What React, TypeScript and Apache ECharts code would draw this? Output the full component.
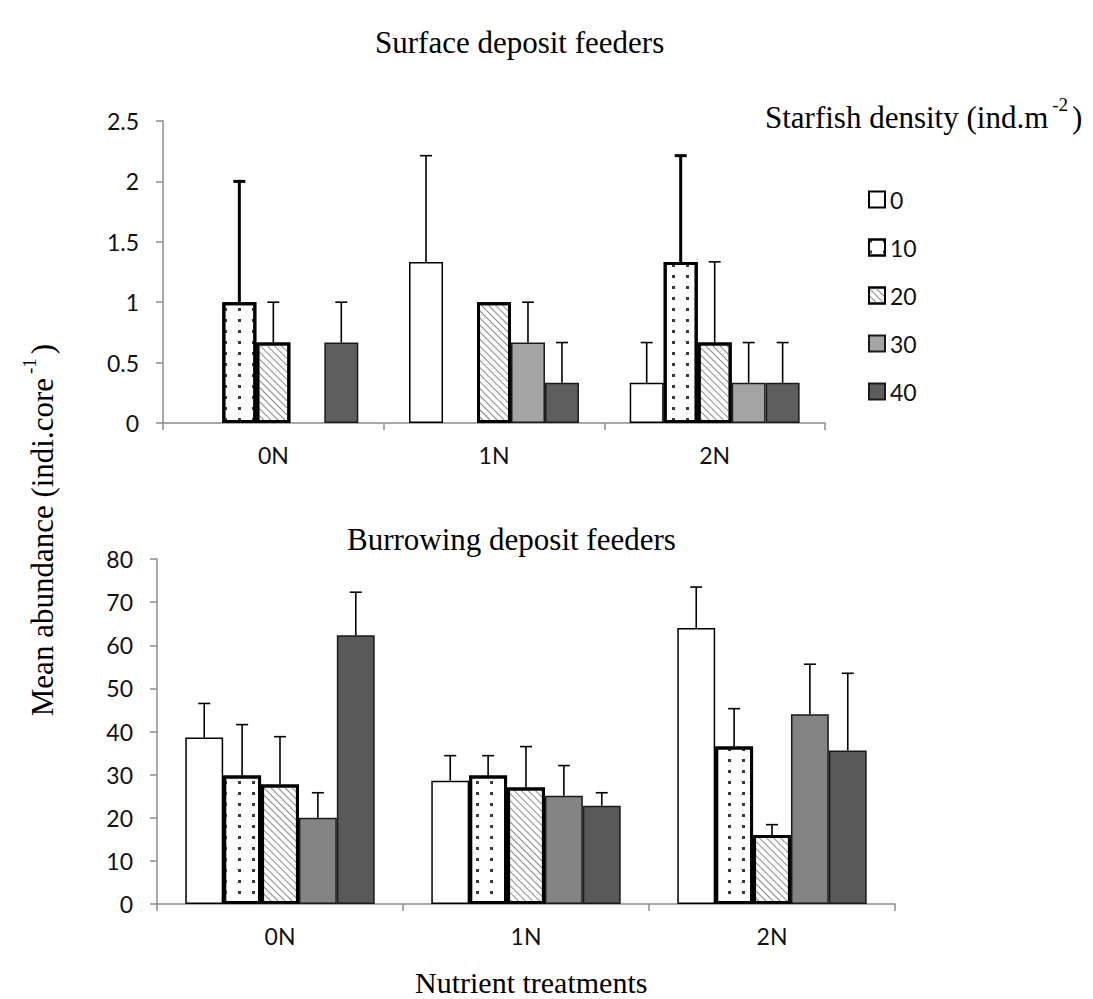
import React, { useEffect, useRef } from "react";
import * as echarts from "echarts";

// ---- data ----
const categories = ["0N", "1N", "2N"];
const densities = ["0", "10", "20", "30", "40"];

// Surface deposit feeders: means and (upper) standard errors per density
const surfaceMeans = [
  [0, 1.333, 0.333], // 0
  [1.0, 0, 1.333], // 10
  [0.667, 1.0, 0.667], // 20
  [0, 0.667, 0.333], // 30
  [0.667, 0.333, 0.333], // 40
];
const surfaceErrors = [
  [0, 0.88, 0.333],
  [1.0, 0, 0.88],
  [0.333, 0, 0.667],
  [0, 0.333, 0.333],
  [0.333, 0.333, 0.333],
];

// Burrowing deposit feeders
const burrowMeans = [
  [38.6, 28.6, 64.0],
  [29.8, 29.8, 36.5],
  [27.7, 27.0, 16.0],
  [20.0, 25.1, 44.0],
  [62.3, 22.8, 35.6],
];
const burrowErrors = [
  [7.9, 5.8, 9.5],
  [11.8, 4.6, 8.8],
  [11.1, 9.5, 2.4],
  [5.8, 7.0, 11.6],
  [10.0, 3.0, 17.9],
];

const surfaceTicks = { min: 0, max: 2.5, interval: 0.5 };
const burrowTicks = { min: 0, max: 80, interval: 10 };

// ---- styles ----
const SERIF = "'Liberation Serif', 'Times New Roman', serif";
const SANS = "Lato, 'Open Sans', sans-serif";
const CAT_GAP = 0.23;

const dotDecal = {
  symbol: "rect",
  symbolSize: 1,
  color: "#3a3a3a",
  dashArrayX: [3, 11],
  dashArrayY: [3, 8],
};
const hatchDecal = {
  symbol: "rect",
  symbolSize: 1,
  color: "#8a8a8a",
  dashArrayX: [1, 0],
  dashArrayY: [1, 4],
  rotation: Math.PI / 4,
};

function barStyle(k: number, top: boolean) {
  switch (k) {
    case 0:
      return { color: "#ffffff", borderColor: "#000", borderWidth: 1.5 };
    case 1:
      return { color: "#ffffff", borderColor: "#000", borderWidth: 3, decal: dotDecal };
    case 2:
      return { color: "#ffffff", borderColor: "#000", borderWidth: 3, decal: hatchDecal };
    case 3:
      return { color: top ? "#a4a4a4" : "#838383", borderColor: "#1a1a1a", borderWidth: 1.5 };
    default:
      return { color: top ? "#5e5e5e" : "#595959", borderColor: "#1a1a1a", borderWidth: 1.5 };
  }
}

function errorSeries(gridIdx: number, means: number[][], errs: number[][], top: boolean) {
  const data: number[][] = [];
  means.forEach((row, k) =>
    row.forEach((m, c) => {
      data.push([c, m, errs[k][c], k]);
    })
  );
  return {
    type: "custom",
    xAxisIndex: gridIdx,
    yAxisIndex: gridIdx,
    z: 5,
    silent: true,
    data,
    encode: { x: 0, y: 1 },
    renderItem: (params: any, api: any) => {
      const c = api.value(0);
      const m = api.value(1);
      const e = api.value(2);
      const k = api.value(3);
      if (!e) return { type: "group", children: [] };
      const band = api.size([1, 0])[0];
      const bw = (band * (1 - CAT_GAP)) / 5;
      const p0 = api.coord([c, m]);
      const p1 = api.coord([c, m + e]);
      const x = p0[0] + (k - 2) * bw;
      const lw = top && k === 1 ? 3 : 1.6;
      const cap = 6;
      return {
        type: "group",
        children: [
          { type: "line", shape: { x1: x, y1: p0[1], x2: x, y2: p1[1] }, style: { stroke: "#000", lineWidth: lw } },
          { type: "line", shape: { x1: x - cap, y1: p1[1], x2: x + cap, y2: p1[1] }, style: { stroke: "#000", lineWidth: lw } },
        ],
      };
    },
  };
}

function barSeries(gridIdx: number, means: number[][], top: boolean) {
  return means.map((row, k) => ({
    type: "bar",
    name: densities[k],
    xAxisIndex: gridIdx,
    yAxisIndex: gridIdx,
    barGap: "0%",
    barCategoryGap: `${CAT_GAP * 100}%`,
    itemStyle: barStyle(k, top),
    // a mean of zero draws no bar at all
    data: row.map((v) => (v === 0 ? null : v)),
  }));
}

const axisLineStyle = { color: "#8c8c8c", width: 1.5 };

function xAxis(gridIdx: number) {
  return {
    type: "category",
    gridIndex: gridIdx,
    data: categories,
    axisLine: { lineStyle: axisLineStyle },
    axisTick: { show: true, length: 7, lineStyle: axisLineStyle },
    axisLabel: { color: "#111", fontFamily: SANS, fontSize: 23, margin: 20 },
  };
}
function yAxis(gridIdx: number, t: { min: number; max: number; interval: number }) {
  return {
    type: "value",
    gridIndex: gridIdx,
    min: t.min,
    max: t.max,
    interval: t.interval,
    axisLine: { show: true, lineStyle: axisLineStyle },
    axisTick: { show: true, length: 7, lineStyle: axisLineStyle },
    splitLine: { show: false },
    axisLabel: { color: "#111", fontFamily: SANS, fontSize: 23, margin: 24 },
  };
}

const serifRich = {
  a: { fontFamily: SERIF, fontSize: 31, fontWeight: "normal", color: "#000", verticalAlign: "bottom", lineHeight: 36 },
  s: { fontFamily: SERIF, fontSize: 19, fontWeight: "normal", color: "#000", verticalAlign: "bottom", lineHeight: 36, padding: [0, 4, 19, 4] },
};
const titleStyle = { fontFamily: SERIF, fontSize: 31, fontWeight: "normal", color: "#000" };

export default function App() {
  const ref = useRef<HTMLDivElement>(null);
  useEffect(() => {
    if (!ref.current) return;
    const chart = echarts.init(ref.current, undefined, { renderer: "svg" });
    const option: any = {
      animation: false,
      backgroundColor: "#ffffff",
      title: [
        { text: "Surface deposit feeders", left: 370, top: 22, textStyle: titleStyle },
        { text: "{a|Starfish density (ind.m}{s|-2}{a|)}", left: 760, top: 92, textStyle: { fontWeight: "normal", rich: serifRich } },
        { text: "Burrowing deposit feeders", left: 342, top: 519, textStyle: titleStyle },
        { text: "Nutrient treatments", left: 410, top: 962, textStyle: { ...titleStyle, fontSize: 30 } },
      ],
      legend: {
        data: densities,
        orient: "vertical",
        left: 863,
        top: 183,
        itemWidth: 16,
        itemHeight: 16,
        itemGap: 25,
        icon: "rect",
        textStyle: { fontFamily: SANS, fontSize: 23, color: "#111", lineHeight: 23 },
      },
      grid: [
        { left: 163, top: 121, width: 662, height: 302 },
        { left: 157, top: 559, width: 738, height: 345 },
      ],
      xAxis: [xAxis(0), xAxis(1)],
      yAxis: [yAxis(0, surfaceTicks), yAxis(1, burrowTicks)],
      graphic: [
        {
          type: "text",
          x: 40,
          y: 530,
          rotation: Math.PI / 2,
          style: {
            text: "{a|Mean abundance (indi.core}{s|-1}{a|)}",
            rich: serifRich,
            align: "center",
            verticalAlign: "middle",
            textAlign: "center",
            textVerticalAlign: "middle",
          },
        },
      ],
      series: [
        ...barSeries(0, surfaceMeans, true),
        ...barSeries(1, burrowMeans, false),
        errorSeries(0, surfaceMeans, surfaceErrors, true),
        errorSeries(1, burrowMeans, burrowErrors, false),
      ],
    };
    chart.setOption(option);
    return () => chart.dispose();
  }, []);
  return (
    <div
      ref={ref}
      style={{ position: "absolute", left: 0, top: 0, width: 1093, height: 999, background: "#fff" }}
    />
  );
}
